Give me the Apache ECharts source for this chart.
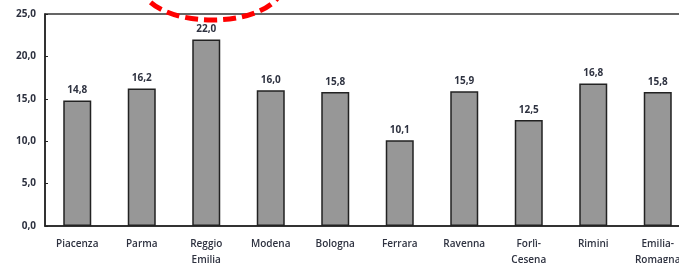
<!DOCTYPE html>
<html>
<head>
<meta charset="utf-8">
<script src="https://cdn.jsdelivr.net/npm/echarts@6/dist/echarts.min.js"></script>
<style>
  html, body { margin: 0; padding: 0; background: #fff; }
  #main { width: 679px; height: 263px; }
</style>
</head>
<body>
<div id="main"></div>
<script>
const provinces = ['Piacenza', 'Parma', 'Reggio\nEmilia', 'Modena', 'Bologna', 'Ferrara', 'Ravenna', 'Forlì-\nCesena', 'Rimini', 'Emilia-\nRomagna'];
const values = [14.8, 16.2, 22.0, 16.0, 15.8, 10.1, 15.9, 12.5, 16.8, 15.8];
const yTicks = [0, 5, 10, 15, 20, 25];

const fmt = (v) => Number(v).toFixed(1).replace('.', ',');
const textColor = '#2e3240';
const font = '"Open Sans", "Liberation Sans", sans-serif';

const chart = echarts.init(document.getElementById('main'));
chart.setOption({
  animation: false,
  backgroundColor: '#fff',
  grid: {
    left: 45, top: 14, width: 645, height: 212,
    outerBoundsMode: 'none',
    show: true, borderColor: '#333', borderWidth: 1.5
  },
  xAxis: {
    type: 'category',
    data: provinces,
    axisLine: { lineStyle: { color: '#222', width: 1.5 } },
    axisTick: { show: false },
    axisLabel: {
      interval: 0, margin: 10, fontSize: 10, lineHeight: 16,
      color: textColor, fontFamily: font, fontWeight: 600
    }
  },
  yAxis: {
    type: 'value',
    min: yTicks[0], max: yTicks[yTicks.length - 1], interval: 5,
    splitLine: { show: false },
    axisLine: { show: true, lineStyle: { color: '#222', width: 1.5 } },
    axisTick: { show: true, inside: true, length: 3, lineStyle: { color: '#222' } },
    axisLabel: {
      margin: 9, fontSize: 10, color: textColor, fontFamily: font, fontWeight: 'bold',
      formatter: fmt
    }
  },
  series: [{
    type: 'bar',
    data: values,
    barWidth: 28,
    itemStyle: { color: '#979797', borderColor: '#222', borderWidth: 1.5 },
    label: {
      show: true, position: 'top', distance: 5,
      fontSize: 10, color: textColor, fontFamily: font, fontWeight: 'bold',
      formatter: (p) => fmt(p.value)
    }
  }],
  graphic: [{
    type: 'ellipse',
    shape: { cx: 212, cy: -14, rx: 70, ry: 34 },
    style: { fill: 'none', stroke: '#f00', lineWidth: 5, lineDash: [13, 6] },
    z: 100
  }]
});
</script>
</body>
</html>
